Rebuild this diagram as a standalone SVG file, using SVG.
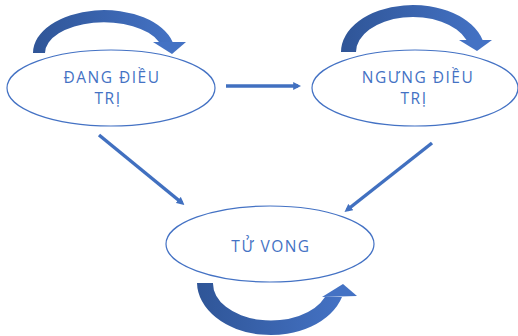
<svg xmlns="http://www.w3.org/2000/svg" width="518" height="336" viewBox="0 0 518 336">
<style>
.node ellipse{fill:#ffffff;stroke:#4472C4;stroke-width:1.2}
.lbl{font-family:"Open Sans","Noto Sans",sans-serif;font-size:15.5px;font-weight:500;fill:#4472C4;text-anchor:middle;letter-spacing:1.5px}
.conn line{stroke:#4170C0;stroke-width:3.5}
.band{fill:url(#g)}
</style>
<defs>
<linearGradient id="g" x1="0" y1="0" x2="1" y2="0">
<stop offset="0" stop-color="#2F5597"/>
<stop offset="1" stop-color="#4472C4"/>
</linearGradient>
<marker id="ah" viewBox="0 0 10 10" refX="6" refY="5" markerWidth="8" markerHeight="8" markerUnits="userSpaceOnUse" orient="auto">
<path d="M0,0 L10,5 L0,10 Z" fill="#4170C0"/>
</marker>
</defs>
<rect width="518" height="336" fill="#ffffff"/>
<g id="loops">
<g id="loop-dang">
<path class="band" d="M33,53 A71 43 0 0 1 172.6,42 L159,42 A59 31 0 0 0 45,53 Z"/>
<polygon points="153,42 186,42 172,54" fill="#4472C4"/>
</g>
<g id="loop-ngung">
<path class="band" d="M341,52 A72 47 0 0 1 482.6,40 L466.5,40 A57 35 0 0 0 356,52 Z"/>
<polygon points="459,40 492,40 477,51" fill="#4472C4"/>
</g>
<g id="loop-tuvong">
<path class="band" d="M197,283 A74 53 0 0 0 342,297 L325,297 A58 37 0 0 1 213,283 Z"/>
<polygon points="322,297 357,296 343,284" fill="#4472C4"/>
</g>
</g>
<g id="connectors" class="conn">
<line x1="226" y1="86" x2="298" y2="86" marker-end="url(#ah)"/>
<line x1="99" y1="135" x2="182" y2="203" marker-end="url(#ah)"/>
<line x1="432" y1="143" x2="347" y2="210" marker-end="url(#ah)"/>
</g>
<g id="node-dang" class="node">
<ellipse cx="111" cy="88" rx="104" ry="38"/>
<text class="lbl" x="112" y="83">ĐANG ĐIỀU</text>
<text class="lbl" x="108" y="104">TRỊ</text>
</g>
<g id="node-ngung" class="node">
<ellipse cx="415" cy="88" rx="103" ry="38"/>
<text class="lbl" x="418" y="83">NGƯNG ĐIỀU</text>
<text class="lbl" x="414" y="104">TRỊ</text>
</g>
<g id="node-tuvong" class="node">
<ellipse cx="270" cy="244" rx="104" ry="38"/>
<text class="lbl" x="271" y="252">TỬ VONG</text>
</g>
</svg>
